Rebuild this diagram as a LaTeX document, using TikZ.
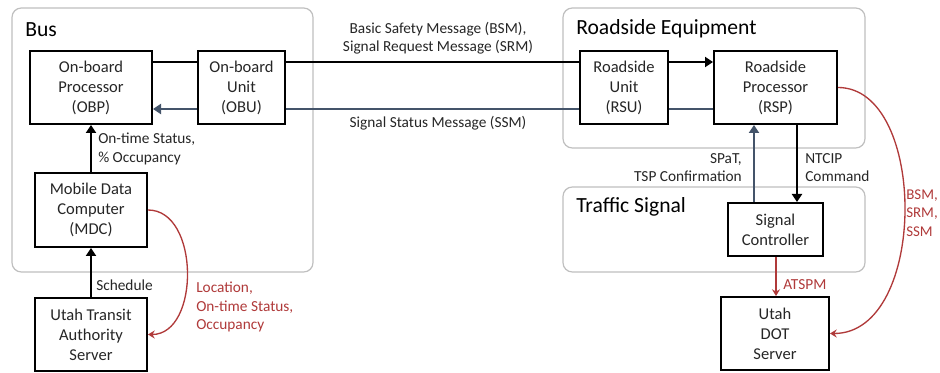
\documentclass[tikz,border=0pt]{standalone}
\usepackage{fontspec}
\setmainfont{Carlito}
\usetikzlibrary{arrows.meta}
\definecolor{slate}{HTML}{44546A}
\definecolor{dred}{HTML}{B03A3A}
\definecolor{grp}{HTML}{BFBFBF}
\definecolor{txt}{HTML}{262626}
\begin{document}
\begin{tikzpicture}[x=0.75pt,y=-0.75pt,
  group/.style={draw=grp,line width=0.9pt,rounded corners=7pt},
  grouptitle/.style={anchor=west,inner sep=0pt,font=\fontsize{16.2}{19}\selectfont,text=black},
  unit/.style={draw=black,line width=1.5pt,align=center,inner sep=0pt,text=txt,font=\fontsize{12.4}{15}\selectfont},
  lbl/.style={inner sep=0pt,text=txt,font=\fontsize{11.5}{13.6}\selectfont},
  rlbl/.style={inner sep=0pt,text=dred,font=\fontsize{11.5}{13.8}\selectfont},
  blk/.style={draw=black,line width=1.8pt},
  blu/.style={draw=slate,line width=1.8pt},
  red/.style={draw=dred,line width=1pt},
  tip/.style={-{Triangle[width=7.5pt,length=6pt]}},
  rtip/.style={-{Stealth[width=6pt,length=5pt]}}
]
\useasboundingbox[fill=white] (0,0) rectangle (940,373);
% groups
\draw[group] (12,8) rectangle (313,272);
\node[grouptitle] (tbus) at (25,30) {Bus};
\draw[group] (563,8) rectangle (865,148);
\node[grouptitle] (trse) at (576,29) {Roadside Equipment};
\draw[group] (563,187) rectangle (865,272);
\node[grouptitle] (tts) at (576,207) {Traffic Signal};
% units
\node[unit,minimum width=122*0.75pt,minimum height=73*0.75pt] (OBP) at (91,87.5) {On-board\\Processor\\(OBP)};
\node[unit,minimum width=87*0.75pt,minimum height=73*0.75pt] (OBU) at (241.5,87.5) {On-board\\Unit\\(OBU)};
\node[unit,minimum width=88*0.75pt,minimum height=73*0.75pt] (RSU) at (624,87.5) {Roadside\\Unit\\(RSU)};
\node[unit,minimum width=123*0.75pt,minimum height=73*0.75pt] (RSP) at (775.5,87.5) {Roadside\\Processor\\(RSP)};
\node[unit,minimum width=112*0.75pt,minimum height=74*0.75pt] (MDC) at (91,210) {Mobile Data\\Computer\\(MDC)};
\node[unit,minimum width=112*0.75pt,minimum height=73*0.75pt] (UTA) at (91,334.5) {Utah Transit\\Authority\\Server};
\node[unit,minimum width=95*0.75pt,minimum height=53*0.75pt] (SC) at (775.5,229.5) {Signal\\Controller};
\node[unit,minimum width=108*0.75pt,minimum height=73*0.75pt] (DOT) at (775,333.5) {Utah\\DOT\\Server};
% top black line
\draw[blk] (OBP.east |- 0,62) -- (OBU.west |- 0,62);
\draw[blk] (OBU.east |- 0,62) -- (RSU.west |- 0,62);
\draw[blk,tip] (RSU.east |- 0,62) -- (RSP.west |- 0,62);
% blue line
\draw[blu] (RSP.west |- 0,109) -- (RSU.east |- 0,109);
\draw[blu] (RSU.west |- 0,109) -- (OBU.east |- 0,109);
\draw[blu,tip] (OBU.west |- 0,109) -- (OBP.east |- 0,109);
% vertical arrows
\draw[blk,tip] (MDC.north) -- (OBP.south);
\draw[blk,tip] (UTA.north) -- (MDC.south);
\draw[blk,tip] (RSP.south -| 797,0) -- (SC.north -| 797,0);
\draw[blu,tip] (SC.north -| 754,0) -- (RSP.south -| 754,0);
\draw[red,rtip] (SC.south -| 776,0) -- (DOT.north -| 776,0);
% red curves
\draw[red,rtip] (MDC.east) .. controls +(52,0) and +(52,0) .. (UTA.east);
\draw[red,rtip] (RSP.east) .. controls +(90,0) and +(98,0) .. (DOT.east);
% labels
\node[lbl,align=center] (lbsm) at (438,38.5) {Basic Safety Message (BSM),\\Signal Request Message (SRM)};
\node[lbl,align=center] (lssm) at (438,123) {Signal Status Message (SSM)};
\node[lbl,align=left,anchor=west] (lots) at (98,149) {On-time Status,\\\% Occupancy};
\node[lbl,anchor=west] (lsch) at (96,285) {Schedule};
\node[lbl,align=right,anchor=east] (lspat) at (742,167.5) {SPaT,\\TSP Confirmation};
\node[lbl,align=left,anchor=west] (lntc) at (805,167.5) {NTCIP\\Command};
\node[rlbl,align=left,anchor=west] (lloc) at (196,307) {Location,\\On-time Status,\\Occupancy};
\node[rlbl,anchor=west] (latspm) at (783,285) {ATSPM};
\node[rlbl,align=left,anchor=west,font=\fontsize{11.2}{13.8}\selectfont] (lbsm2) at (906,213) {BSM,\\SRM,\\SSM};
\end{tikzpicture}
\end{document}
